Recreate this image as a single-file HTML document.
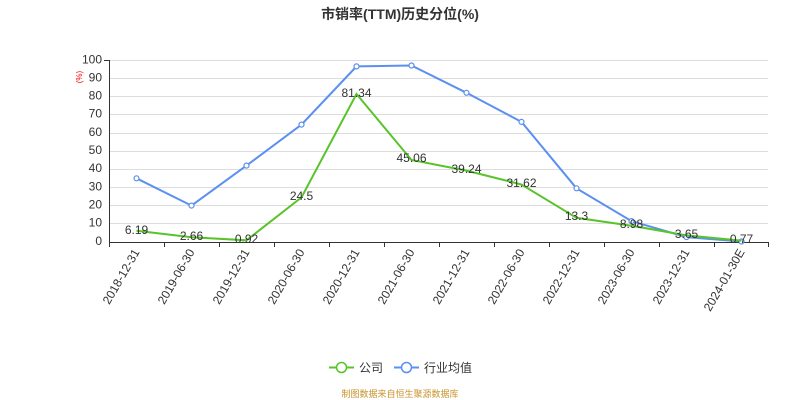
<!DOCTYPE html>
<html><head><meta charset="utf-8"><style>body{margin:0;background:#fff}svg{display:block}text{font-family:"Liberation Sans","Noto Sans CJK SC",sans-serif}</style></head><body>
<svg width="800" height="400" viewBox="0 0 800 400" xmlns="http://www.w3.org/2000/svg">
<text x="400" y="19" text-anchor="middle" font-size="14" font-weight="bold" fill="#333">市销率(TTM)历史分位(%)</text>
<g stroke="#ddd" stroke-width="1">
<line x1="109" x2="768" y1="60.5" y2="60.5"/><line x1="109" x2="768" y1="78.5" y2="78.5"/><line x1="109" x2="768" y1="96.5" y2="96.5"/><line x1="109" x2="768" y1="114.5" y2="114.5"/><line x1="109" x2="768" y1="133.5" y2="133.5"/><line x1="109" x2="768" y1="151.5" y2="151.5"/><line x1="109" x2="768" y1="169.5" y2="169.5"/><line x1="109" x2="768" y1="187.5" y2="187.5"/><line x1="109" x2="768" y1="205.5" y2="205.5"/><line x1="109" x2="768" y1="223.5" y2="223.5"/>
</g>
<g stroke="#333" stroke-width="1">
<line x1="109.5" x2="109.5" y1="60" y2="242"/><line x1="104" x2="109" y1="60.5" y2="60.5"/>
<line x1="109" x2="769" y1="242.5" y2="242.5"/>
<line x1="109.5" x2="109.5" y1="242" y2="247"/><line x1="164.5" x2="164.5" y1="242" y2="247"/><line x1="219.5" x2="219.5" y1="242" y2="247"/><line x1="274.5" x2="274.5" y1="242" y2="247"/><line x1="329.5" x2="329.5" y1="242" y2="247"/><line x1="384.5" x2="384.5" y1="242" y2="247"/><line x1="439.5" x2="439.5" y1="242" y2="247"/><line x1="494.5" x2="494.5" y1="242" y2="247"/><line x1="549.5" x2="549.5" y1="242" y2="247"/><line x1="604.5" x2="604.5" y1="242" y2="247"/><line x1="659.5" x2="659.5" y1="242" y2="247"/><line x1="714.5" x2="714.5" y1="242" y2="247"/><line x1="768.5" x2="768.5" y1="242" y2="247"/>
</g>
<g font-size="12" fill="#333" text-anchor="end" dominant-baseline="middle">
<text x="102" y="60.5">100</text><text x="102" y="78.5">90</text><text x="102" y="96.5">80</text><text x="102" y="114.5">70</text><text x="102" y="133">60</text><text x="102" y="151">50</text><text x="102" y="169">40</text><text x="102" y="187.5">30</text><text x="102" y="205.5">20</text><text x="102" y="223.5">10</text><text x="102" y="242">0</text>
</g>
<text x="80" y="77" font-size="8" fill="#e00" transform="rotate(-90 80 77)" text-anchor="middle" dominant-baseline="middle">(%)</text>
<g font-size="12" fill="#333" text-anchor="end">
<text transform="translate(140,252) rotate(-60)">2018-12-31</text>
<text transform="translate(195,252) rotate(-60)">2019-06-30</text>
<text transform="translate(250,252) rotate(-60)">2019-12-31</text>
<text transform="translate(305,252) rotate(-60)">2020-06-30</text>
<text transform="translate(360,252) rotate(-60)">2020-12-31</text>
<text transform="translate(415,252) rotate(-60)">2021-06-30</text>
<text transform="translate(470,252) rotate(-60)">2021-12-31</text>
<text transform="translate(525,252) rotate(-60)">2022-06-30</text>
<text transform="translate(580,252) rotate(-60)">2022-12-31</text>
<text transform="translate(635,252) rotate(-60)">2023-06-30</text>
<text transform="translate(690,252) rotate(-60)">2023-12-31</text>
<text transform="translate(745,252) rotate(-60)">2024-01-30E</text>
</g>
<polyline fill="none" stroke="#5b8ff0" stroke-width="2" points="136.5,178.3 191.5,205.6 246.5,165.6 301.5,124.6 356.5,66.4 411.5,65.5 466.5,92.8 521.5,121.9 576.5,188.3 631.5,221.1 686.5,237.1 741.5,241.5"/>
<g fill="#fff" stroke="#5b8ff0" stroke-width="1.2">
<circle cx="136.5" cy="178.3" r="2.5"/><circle cx="191.5" cy="205.6" r="2.5"/><circle cx="246.5" cy="165.6" r="2.5"/><circle cx="301.5" cy="124.6" r="2.5"/><circle cx="356.5" cy="66.4" r="2.5"/><circle cx="411.5" cy="65.5" r="2.5"/><circle cx="466.5" cy="92.8" r="2.5"/><circle cx="521.5" cy="121.9" r="2.5"/><circle cx="576.5" cy="188.3" r="2.5"/><circle cx="631.5" cy="221.1" r="2.5"/><circle cx="686.5" cy="237.1" r="2.5"/><circle cx="741.5" cy="241.5" r="2.5"/>
</g>
<polyline fill="none" stroke="#58c42a" stroke-width="2" points="136.5,230.7 191.5,237.2 246.5,240.3 301.5,197.4 356.5,94 411.5,160 466.5,170.6 521.5,184.5 576.5,217.8 631.5,225.7 686.5,235.4 741.5,240.6"/>
<g font-size="12" fill="#333" text-anchor="middle" dominant-baseline="middle">
<text x="136.5" y="231">6.19</text><text x="191.5" y="237">2.66</text><text x="246.5" y="240">0.92</text><text x="301.5" y="197">24.5</text><text x="356.5" y="94">81.34</text><text x="411.5" y="159">45.06</text><text x="466.5" y="170">39.24</text><text x="521.5" y="184">31.62</text><text x="576.5" y="217">13.3</text><text x="631.5" y="225">8.98</text><text x="686.5" y="235">3.65</text><text x="741.5" y="240">0.77</text>
</g>
<line x1="329" x2="354" y1="367.5" y2="367.5" stroke="#58c42a" stroke-width="2"/><circle cx="341.5" cy="367.5" r="5" fill="#fff" stroke="#58c42a" stroke-width="1.5"/>
<text x="359" y="372" font-size="12" fill="#333">公司</text>
<line x1="394" x2="419" y1="367.5" y2="367.5" stroke="#5b8ff0" stroke-width="2"/><circle cx="406.5" cy="367.5" r="5" fill="#fff" stroke="#5b8ff0" stroke-width="1.5"/>
<text x="424" y="372" font-size="12" fill="#333">行业均值</text>
<text x="400" y="397" font-size="9" fill="#c9922a" text-anchor="middle">制图数据来自恒生聚源数据库</text>
</svg>
</body></html>
